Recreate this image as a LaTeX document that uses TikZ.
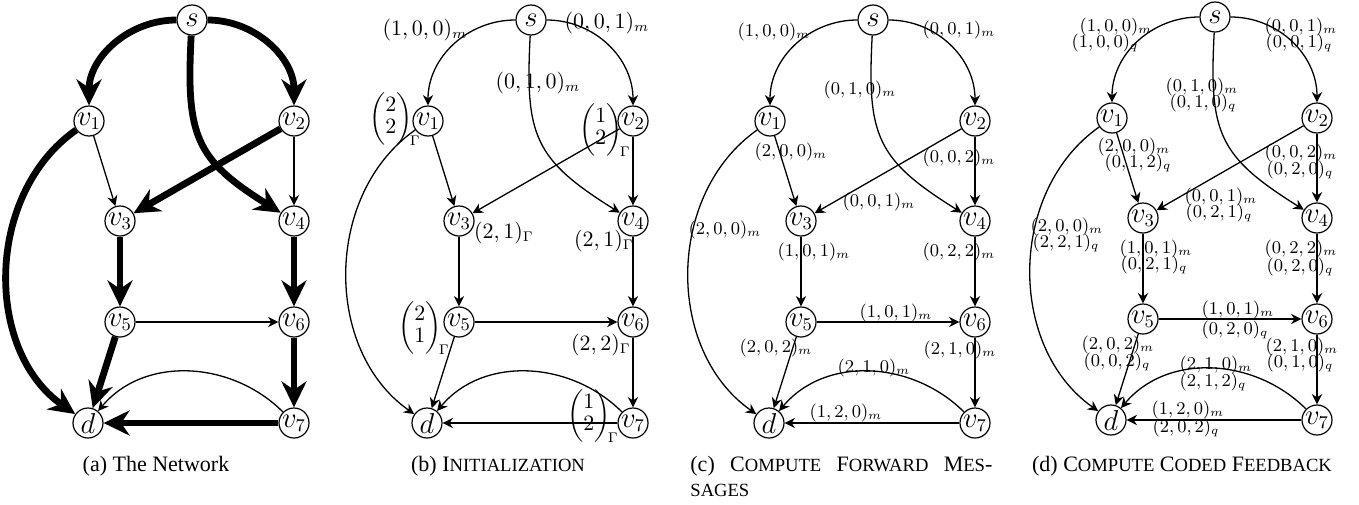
\documentclass[tikz,border=0pt]{standalone}
\usepackage{amsmath}
\usepackage{fontspec}
\setmainfont{Liberation Serif}
\usetikzlibrary{arrows.meta}
\newcommand\fsc[1]{{\fontsize{9.3}{11}\selectfont #1}}
\tikzset{
 vn/.style={circle,draw,line width=0.6pt,minimum size=15pt,inner sep=0pt,font=\fontsize{13.5}{15}\selectfont},
 tedge/.style={line width=0.65pt,-{Stealth[length=5.2pt,width=5.2pt]}},
 fedge/.style={line width=3.4pt,-{Stealth[length=13pt,width=12.5pt]}},
 lb/.style={font=\fontsize{10.7}{11}\selectfont, inner sep=0pt},
 ls/.style={font=\fontsize{8.6}{10}\selectfont, inner sep=0pt},
 capt/.style={font=\fontsize{11}{13}\selectfont, inner sep=0pt},
}
\newcommand\gnodes[3]{%
 \begin{scope}[shift={(#2,-#3)}]
 \node[vn] (#1d) at (0,0) {$d$};
 \node[vn] (#1v1) at (1,302) {$v_1$};
 \node[vn] (#1v3) at (32,202) {$v_3$};
 \node[vn] (#1v5) at (32,101) {$v_5$};
 \node[vn] (#1v2) at (206,302) {$v_2$};
 \node[vn] (#1v4) at (206,202) {$v_4$};
 \node[vn] (#1v6) at (206,101) {$v_6$};
 \node[vn] (#1v7) at (206,0) {$v_7$};
 \node[vn] (#1s) at (104,403) {$s$};
 \end{scope}}
\newcommand\gedges[1]{%
 \draw[tedge] (#1s) to[out=180,in=90] (#1v1);
 \draw[tedge] (#1s) to[out=0,in=90] (#1v2);
 \draw[tedge] (#1s) to[out=267,in=148,looseness=1.3] (#1v4);
 \draw[tedge] (#1v1) -- (#1v3);
 \draw[tedge] (#1v2) -- (#1v3);
 \draw[tedge] (#1v2) -- (#1v4);
 \draw[tedge] (#1v1) to[out=215,in=145] (#1d);
 \draw[tedge] (#1v3) -- (#1v5);
 \draw[tedge] (#1v4) -- (#1v6);
 \draw[tedge] (#1v5) -- (#1v6);
 \draw[tedge] (#1v5) -- (#1d);
 \draw[tedge] (#1v6) -- (#1v7);
 \draw[tedge] (#1v7) -- (#1d);
 \draw[tedge] (#1v7) to[out=135,in=50] (#1d);}
\begin{document}
\begin{tikzpicture}[x=0.5pt,y=0.5pt]
\useasboundingbox (0,0) rectangle (1359,-504);
% ---------- panel a
\gnodes{a}{88}{423}
\draw[fedge] (as) to[out=180,in=90] (av1);
\draw[fedge] (as) to[out=0,in=90] (av2);
\draw[fedge] (as) to[out=267,in=148,looseness=1.3] (av4);
\draw[tedge] (av1) -- (av3);
\draw[fedge] (av2) -- (av3);
\draw[tedge] (av2) -- (av4);
\draw[fedge] (av1) to[out=215,in=145] (ad);
\draw[fedge] (av3) -- (av5);
\draw[fedge] (av4) -- (av6);
\draw[tedge] (av5) -- (av6);
\draw[fedge] (av5) -- (ad);
\draw[fedge] (av6) -- (av7);
\draw[fedge] (av7) -- (ad);
\draw[tedge] (av7) to[out=135,in=50] (ad);
\node[capt] (capa) at (156,-466) {(a) The Network};
% ---------- panel b
\gnodes{b}{427}{423}
\gedges{b}
\node[lb] at (425,-30) {$(1,0,0)_m$};
\node[lb] at (607,-23) {$(0,0,1)_m$};
\node[lb] at (538,-83) {$(0,1,0)_m$};
\node[lb] at (395,-119) {$\begin{pmatrix}2\\2\end{pmatrix}_{\!\Gamma}$};
\node[lb] at (605,-130) {$\begin{pmatrix}1\\2\end{pmatrix}_{\!\Gamma}$};
\node[lb] at (504,-233) {$(2,1)_\Gamma$};
\node[lb] at (604,-241) {$(2,1)_\Gamma$};
\node[lb] at (424,-328) {$\begin{pmatrix}2\\1\end{pmatrix}_{\!\Gamma}$};
\node[lb] at (601,-345) {$(2,2)_\Gamma$};
\node[lb] at (593,-416) {$\begin{pmatrix}1\\2\end{pmatrix}_{\!\Gamma}$};
\node[capt] (capb) at (498,-466) {(b) I\fsc{NITIALIZATION}};
% ---------- panel c
\gnodes{c}{769}{423}
\gedges{c}
\node[ls] at (774,-32) {$(1,0,0)_m$};
\node[ls] at (959,-30) {$(0,0,1)_m$};
\node[ls] at (860,-90) {$(0,1,0)_m$};
\node[ls] at (791,-152) {$(2,0,0)_m$};
\node[ls] at (959,-158) {$(0,0,2)_m$};
\node[ls] at (879,-202) {$(0,0,1)_m$};
\node[ls] at (725,-230) {$(2,0,0)_m$};
\node[ls] at (814,-252) {$(1,0,1)_m$};
\node[ls] at (959,-252) {$(0,2,2)_m$};
\node[ls] at (896,-313) {$(1,0,1)_m$};
\node[ls] at (776,-348) {$(2,0,2)_m$};
\node[ls] at (960,-350) {$(2,1,0)_m$};
\node[ls] at (874,-368) {$(2,1,0)_m$};
\node[ls] at (846,-413) {$(1,2,0)_m$};
\node[capt,anchor=west] (capc) at (690,-466) {\makebox[151pt][s]{(c)\ C\fsc{OMPUTE}\ F\fsc{ORWARD}\ M\fsc{ES}-}};
\node[capt,anchor=west] (capc2) at (690,-490) {\fsc{SAGES}};
% ---------- panel d
\gnodes{d}{1111}{420}
\gedges{d}
\node[ls] at (1116,-27) {$(1,0,0)_m$};
\node[ls] at (1105,-43) {$(1,0,0)_q$};
\node[ls] at (1301,-27) {$(0,0,1)_m$};
\node[ls] at (1299,-43) {$(0,0,1)_q$};
\node[ls] at (1202,-87) {$(0,1,0)_m$};
\node[ls] at (1203,-103) {$(0,1,0)_q$};
\node[ls] at (1134,-147) {$(2,0,0)_m$};
\node[ls] at (1138,-163) {$(0,1,2)_q$};
\node[ls] at (1301,-153) {$(0,0,2)_m$};
\node[ls] at (1300,-170) {$(0,2,0)_q$};
\node[ls] at (1221,-197) {$(0,0,1)_m$};
\node[ls] at (1219,-213) {$(0,2,1)_q$};
\node[ls] at (1067,-227) {$(2,0,0)_m$};
\node[ls] at (1066,-243) {$(2,2,1)_q$};
\node[ls] at (1156,-249) {$(1,0,1)_m$};
\node[ls] at (1154,-265) {$(0,2,1)_q$};
\node[ls] at (1301,-249) {$(0,2,2)_m$};
\node[ls] at (1300,-267) {$(0,2,0)_q$};
\node[ls] at (1238,-310) {$(1,0,1)_m$};
\node[ls] at (1235,-330) {$(0,2,0)_q$};
\node[ls] at (1118,-345) {$(2,0,2)_m$};
\node[ls] at (1117,-362) {$(0,0,2)_q$};
\node[ls] at (1302,-347) {$(2,1,0)_m$};
\node[ls] at (1300,-363) {$(0,1,0)_q$};
\node[ls] at (1216,-365) {$(2,1,0)_m$};
\node[ls] at (1213,-382) {$(2,1,2)_q$};
\node[ls] at (1188,-410) {$(1,2,0)_m$};
\node[ls] at (1186,-428) {$(2,0,2)_q$};
\node[capt] (capd) at (1182,-466) {(d) C\fsc{OMPUTE} C\fsc{ODED} F\fsc{EEDBACK}};
\end{tikzpicture}
\end{document}
